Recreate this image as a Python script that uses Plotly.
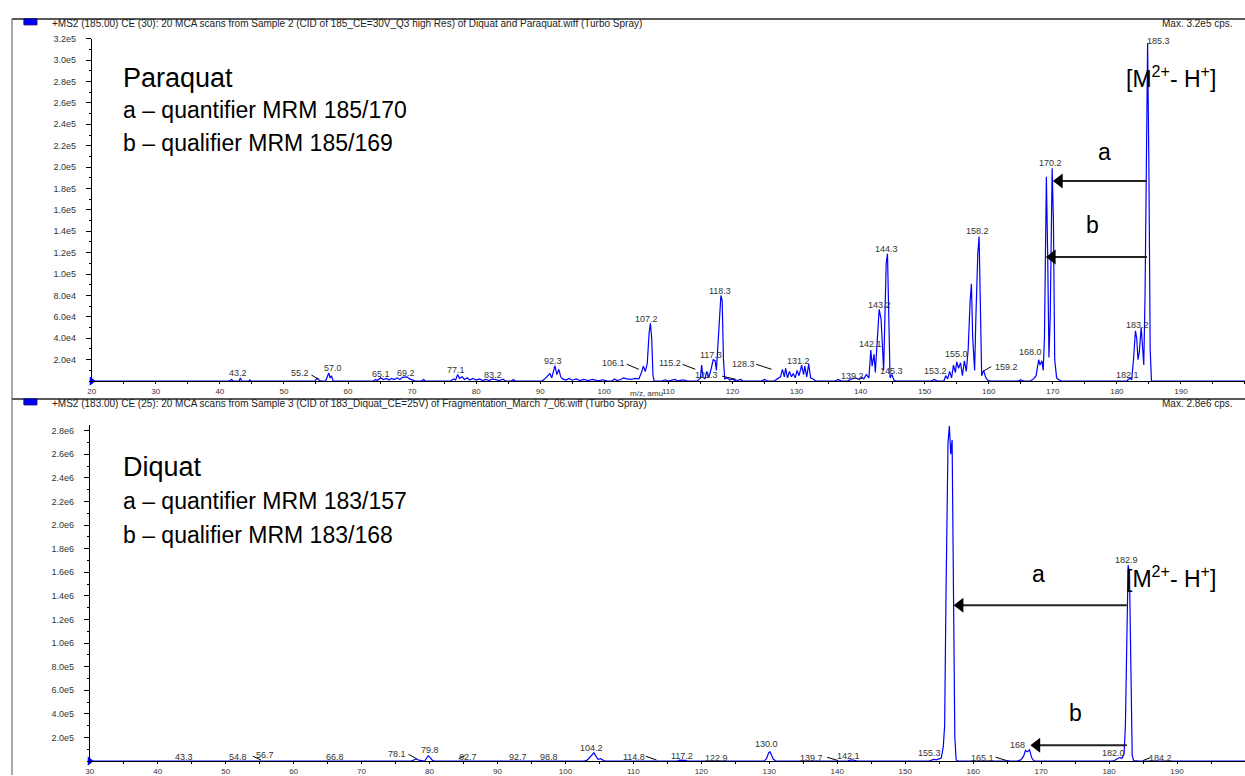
import plotly.graph_objects as go

W, H = 1245, 776

# ---------------- data: Paraquat (top panel) ----------------
pq_mz = [20, 41.5, 41.8, 42.1, 43.0, 43.2, 43.4, 44.5, 44.7, 44.9,
         54.8, 55.2, 55.5, 55.8, 56.5, 57.0, 57.2, 57.4, 57.7,
         64.0, 64.3, 64.6, 65.1, 65.5, 66.0, 66.4, 66.8, 67.2, 67.7, 68.1, 68.5, 69.2, 69.6, 70.0, 70.5, 71.5, 71.8, 72.1,
         76.0, 76.5, 76.8, 77.1, 77.4, 77.8, 78.2, 78.6, 79.0, 79.5, 80.0, 80.5, 81.0, 81.5, 82.0, 82.6, 83.2, 83.6, 84.2, 84.6, 85.5, 85.8, 86.1,
         90.3, 90.8, 91.2, 91.5, 91.8, 92.0, 92.3, 92.6, 92.9, 93.2, 93.5, 94.0, 94.5, 95.0, 95.6, 96.2, 96.8, 97.5, 98.2, 99.0, 99.8, 100.5,
         101.2, 101.6, 102.0, 102.6, 103.0, 103.5, 104.2, 104.8, 105.4, 105.8, 106.1, 106.4, 106.7, 107.0, 107.2, 107.4, 107.6, 107.8,
         109.0, 109.5, 110.0, 111.0, 111.5, 112.0, 112.5, 113.0,
         114.5, 115.0, 115.2, 115.4, 115.7, 116.0, 116.3, 116.7, 117.0, 117.3, 117.5, 117.8, 118.0, 118.2, 118.4, 118.6, 118.8, 119.2, 119.6, 120.0, 120.5, 121.3, 121.6,
         124.5, 125.0, 125.5, 126.5, 127.0, 127.5, 127.8, 128.1, 128.3, 128.6, 128.9, 129.2, 129.5, 129.8, 130.1, 130.4, 130.8, 131.1, 131.3, 131.6, 131.9, 132.2, 132.6, 133.0,
         136.0, 136.5, 137.0, 138.0, 138.6, 139.2, 139.8, 140.2, 140.5, 140.9, 141.3, 141.6, 141.8, 142.1, 142.3, 142.6, 142.9, 143.2, 143.4, 143.6, 143.8, 144.0, 144.2, 144.4, 144.6, 144.9, 145.2, 145.5,
         151.0, 151.5, 152.0, 153.0, 153.3, 153.6, 153.9, 154.2, 154.5, 154.8, 155.0, 155.3, 155.6, 155.9, 156.2, 156.5, 156.8, 157.1, 157.3, 157.5, 157.8, 158.0, 158.3, 158.5, 158.7, 158.9, 159.2, 159.5, 159.8, 160.2,
         164.5, 165.0, 165.5, 166.5, 167.0, 167.4, 167.8, 168.0, 168.3, 168.5, 168.7, 169.0, 169.2, 169.4, 169.6, 169.9, 170.1, 170.3, 170.6, 171.0, 171.4,
         181.5, 181.8, 182.1, 182.3, 182.6, 182.9, 183.1, 183.3, 183.5, 183.8, 184.0, 184.2, 184.4, 184.6, 184.8, 185.0, 185.2, 185.4,
         200]
pq_int = [0, 0, 1500, 0, 0, 3000, 0, 0, 1200, 0,
          0, 2500, 800, 0, 0, 7500, 3000, 5000, 0,
          0, 1500, 500, 3000, 1500, 2500, 1000, 2500, 1500, 3000, 1500, 3500, 4000, 2000, 1000, 0, 0, 1500, 0,
          0, 2000, 1000, 6000, 2500, 4000, 1500, 3000, 1000, 2500, 1000, 2000, 500, 1500, 500, 2000, 1500, 500, 1800, 0, 0, 1500, 0,
          0, 2500, 5000, 7000, 3000, 9000, 14500, 6000, 11000, 4000, 2000, 1000, 2500, 800, 2000, 500, 1500, 500, 1500, 300, 1200, 0,
          0, 2000, 500, 1500, 3000, 2000, 1500, 2500, 2000, 8000, 14000, 9000, 16000, 45000, 54000, 40000, 5000, 0,
          0, 1200, 0, 1500, 0, 800, 1000, 0,
          0, 3000, 15000, 4000, 2000, 9000, 3000, 12000, 20000, 19000, 10000, 40000, 65000, 80000, 75000, 20000, 2000, 3000, 1000, 2000, 0, 1500, 0,
          0, 1500, 0, 0, 2000, 4000, 11000, 4000, 12000, 3000, 9000, 4000, 7000, 3000, 10000, 5000, 15000, 6000, 14000, 4000, 16000, 3000, 2000, 0,
          0, 1500, 0, 0, 2000, 3000, 1500, 3500, 2000, 6000, 3000, 29000, 14000, 25000, 8000, 40000, 67000, 58000, 30000, 10000, 60000, 110000, 119000, 40000, 3000, 6000, 1000, 0,
          0, 1500, 0, 0, 5000, 2000, 9000, 3000, 15000, 8000, 18000, 12000, 17000, 5000, 19000, 9000, 30000, 75000, 91000, 40000, 10000, 60000, 120000, 135000, 50000, 5000, 10000, 4000, 1000, 0,
          0, 1000, 0, 0, 2000, 5000, 20000, 15000, 19000, 10000, 40000, 191000, 120000, 22000, 60000, 199000, 150000, 20000, 3000, 1000, 0,
          0, 1500, 3000, 1000, 20000, 47000, 40000, 20000, 27000, 50000, 30000, 15000, 80000, 200000, 316000, 200000, 30000, 0,
          0]

# ---------------- data: Diquat (bottom panel) ----------------
dq_mz = [30, 42.5, 43.0, 43.3, 43.6, 45.0, 45.3, 45.6,
         54.5, 54.8, 55.1, 56.4, 56.7, 57.0,
         64.5, 65.0, 65.5, 66.5, 66.8, 67.2, 67.8, 68.3, 69.0, 69.6, 70.5, 71.0, 71.5, 72.5, 73.0, 73.4,
         77.3, 77.8, 78.1, 78.4, 78.8, 79.3, 79.5, 79.8, 80.1, 80.4, 80.7,
         82.4, 82.7, 83.0, 84.0, 84.5, 85.0, 86.5, 87.0, 87.5, 90.0, 90.5, 91.0, 92.4, 92.7, 93.0, 94.5, 95.0, 95.5, 96.0, 96.5, 98.5, 98.8, 99.2, 100.5, 101.0, 101.5,
         102.8, 103.2, 103.6, 103.9, 104.2, 104.5, 104.8, 105.2, 105.6, 106.0,
         110.0, 110.5, 111.0, 114.5, 114.8, 115.2, 116.5, 116.8, 117.2, 117.6, 118.0,
         122.6, 122.9, 123.2,
         129.2, 129.6, 129.9, 130.1, 130.3, 130.6, 131.0,
         139.5, 139.8, 140.1, 141.5, 141.9, 142.2, 142.6, 143.0,
         153.5, 153.8, 154.2, 154.6, 155.0, 155.3, 155.6, 155.8, 156.0, 156.3, 156.5, 156.7, 156.9, 157.1, 157.3, 157.5, 157.8,
         164.8, 165.1, 165.4, 166.5, 167.0, 167.4, 167.7, 168.0, 168.3, 168.6, 168.9, 169.2,
         180.4, 180.8, 181.2, 181.6, 181.9, 182.2, 182.4, 182.6, 182.8, 183.0, 183.2, 183.4, 183.6, 184.0, 184.2, 184.5,
         200]
dq_int = [0, 0, 3000, 6000, 0, 0, 3000, 0,
          0, 5000, 0, 0, 6000, 0,
          0, 3000, 0, 0, 5000, 2000, 4000, 1000, 3000, 0, 0, 4000, 0, 0, 3000, 0,
          0, 12000, 18000, 8000, 3000, 0, 20000, 45000, 30000, 8000, 0,
          0, 5000, 0, 0, 3000, 0, 0, 4000, 0, 0, 3000, 0, 0, 5000, 0, 0, 4000, 3000, 6000, 0, 0, 5000, 0, 0, 3000, 0,
          0, 8000, 30000, 50000, 70000, 40000, 15000, 20000, 5000, 0,
          0, 3000, 0, 0, 4000, 0, 0, 8000, 10000, 6000, 0,
          0, 5000, 0,
          0, 20000, 70000, 80000, 50000, 15000, 0,
          0, 5000, 0, 0, 8000, 10000, 5000, 0,
          0, 8000, 15000, 10000, 20000, 25000, 120000, 300000, 1400000, 2700000, 2840000, 2600000, 2720000, 1500000, 200000, 10000, 0,
          0, 4000, 0, 0, 10000, 40000, 90000, 80000, 95000, 30000, 5000, 0,
          0, 5000, 20000, 30000, 25000, 60000, 300000, 1200000, 1660000, 1600000, 600000, 50000, 5000, 3000, 6000, 0,
          0]

# ---------------- tick labels ----------------
pq_ytick_text = ["2.0e4", "4.0e4", "6.0e4", "8.0e4", "1.0e5", "1.2e5", "1.4e5", "1.6e5",
                 "1.8e5", "2.0e5", "2.2e5", "2.4e5", "2.6e5", "2.8e5", "3.0e5", "3.2e5"]
dq_ytick_text = ["2.0e5", "4.0e5", "6.0e5", "8.0e5", "1.0e6", "1.2e6", "1.4e6",
                 "1.6e6", "1.8e6", "2.0e6", "2.2e6", "2.4e6", "2.6e6", "2.8e6"]
pq_xtick_text = ["20", "30", "40", "50", "60", "70", "80", "90", "100", "110",
                 "120", "130", "140", "150", "160", "170", "180", "190", "200"]
dq_xtick_text = ["30", "40", "50", "60", "70", "80", "90", "100", "110",
                 "120", "130", "140", "150", "160", "170", "180", "190", "200"]

# ---------------- peak labels ----------------
pq_lab_text = ["43.2", "55.2", "57.0", "65.1", "69.2", "77.1", "83.2", "92.3", "106.1", "107.2",
               "115.2", "117.3", "118.3", "121.3", "128.3", "131.2", "139.2", "142.1", "143.2",
               "144.3", "145.3", "153.2", "155.0", "158.2", "159.2", "168.0", "170.2", "182.1",
               "183.2", "185.3"]
pq_lab_x = [42.9, 52.5, 57.6, 65.1, 69.0, 76.8, 82.7, 92.0, 101.5, 106.6,
            110.2, 116.7, 118.0, 116.0, 121.7, 130.3, 138.8, 141.5, 142.9,
            144.0, 144.9, 151.7, 155.0, 158.3, 162.8, 166.5, 169.6, 181.7,
            183.3, 186.5]
pq_lab_y = [7400, 7400, 12000, 6500, 7400, 10200, 5600, 18500, 16700, 58300,
            16700, 24000, 84300, 5500, 15700, 18500, 4600, 35000, 71000,
            123000, 9300, 9300, 25000, 140000, 13000, 27000, 204000, 5600,
            52800, 318000]

dq_lab_text = ["43.3", "54.8", "56.7", "66.8", "78.1", "79.8", "82.7", "92.7", "98.8", "104.2",
               "114.8", "117.2", "122.9", "130.0", "139.7", "142.1", "155.3", "156.9", "165.1",
               "168", "182.0", "182.9", "184.2"]
dq_lab_x = [43.8, 51.8, 55.8, 66.1, 75.2, 80.1, 85.7, 93.0, 97.6, 103.9,
            110.1, 117.1, 122.2, 129.6, 136.2, 141.7, 153.6, 156.5, 161.4,
            166.5, 180.7, 182.6, 187.5]
dq_lab_y = [33700, 33700, 50500, 33700, 58900, 92600, 33700, 33700, 33700, 109000,
            33700, 42000, 25000, 143000, 25000, 42000, 67000, 2930000, 25000,
            135000, 67000, 1700000, 25000]

# arrows: (x-axis, y-axis, tail m/z, head m/z, level)
arrow_defs = [
    ("x", "y", 184.7, 170.1, 187000),
    ("x", "y", 184.7, 169.0, 116000),
    ("x2", "y2", 182.6, 157.2, 1.32e6),
    ("x2", "y2", 182.6, 168.5, 1.35e5),
]

# leader ticks joining some labels to their peaks: (axis suffix, m/z0, y0, m/z1, y1)
leaders = [
    ("", 54.3, 5600, 55.5, 1500),
    ("", 103.5, 15700, 105.4, 11000),
    ("", 112.2, 15700, 114.2, 11000),
    ("", 118.4, 4600, 120.6, 1500),
    ("", 123.7, 15700, 126.1, 11000),
    ("", 160.4, 13500, 159.2, 9500),
    ("2", 54.0, 42000, 55.2, 9000),
    ("2", 76.9, 58000, 78.1, 20000),
    ("2", 84.3, 20000, 85.2, 45000),
    ("2", 111.8, 42000, 113.4, 9000),
    ("2", 138.5, 33000, 140.1, 5000),
    ("2", 163.3, 33000, 164.9, 5000),
    ("2", 185.0, 5000, 186.1, 30000),
]


def px(x):
    return x / W


def py(y):
    return 1 - y / H


FONT = "Liberation Sans, Arial, sans-serif"
BLUE = "#0000FF"
ARROW = "#222222"

fig = go.Figure()
fig.add_trace(go.Scatter(x=pq_mz, y=pq_int, mode="lines", xaxis="x", yaxis="y",
                         line=dict(color=BLUE, width=1.2), showlegend=False, hoverinfo="skip"))
fig.add_trace(go.Scatter(x=dq_mz, y=dq_int, mode="lines", xaxis="x2", yaxis="y2",
                         line=dict(color=BLUE, width=1.2), showlegend=False, hoverinfo="skip"))
# origin markers
fig.add_trace(go.Scatter(x=[pq_mz[0]], y=[0], mode="markers", xaxis="x", yaxis="y", cliponaxis=False,
                         marker=dict(symbol="triangle-right", size=8, color=BLUE), showlegend=False, hoverinfo="skip"))
fig.add_trace(go.Scatter(x=[dq_mz[0]], y=[0], mode="markers", xaxis="x2", yaxis="y2", cliponaxis=False,
                         marker=dict(symbol="triangle-right", size=8, color=BLUE), showlegend=False, hoverinfo="skip"))

# arrows drawn as a line plus a triangular head
for xa, ya, tail, head, lvl in arrow_defs:
    per_unit = 6.43 if xa == "x" else 6.82
    head_c = head + 6.0 / per_unit
    fig.add_trace(go.Scatter(x=[tail, head_c], y=[lvl, lvl], mode="lines", xaxis=xa, yaxis=ya,
                             line=dict(color=ARROW, width=2), showlegend=False, hoverinfo="skip"))
    fig.add_trace(go.Scatter(x=[head_c], y=[lvl], mode="markers", xaxis=xa, yaxis=ya,
                             marker=dict(symbol="triangle-left", size=13, color="black"),
                             showlegend=False, hoverinfo="skip"))

tickfont = dict(family=FONT, size=9, color="#333333")
xtickfont = dict(family=FONT, size=8, color="#333333")
common_x = dict(showline=True, linecolor="black", linewidth=1, ticks="outside", ticklen=2,
                tickcolor="black", showgrid=False, zeroline=False, tickfont=xtickfont,
                minor=dict(ticks="outside", ticklen=2, dtick=5, tickcolor="black"))
common_y = dict(showline=True, linecolor="black", linewidth=1, ticks="outside", ticklen=5,
                tickcolor="black", showgrid=False, zeroline=False, tickfont=tickfont,
                ticklabelstandoff=8)

fig.update_layout(
    width=W, height=H, margin=dict(l=0, r=0, t=0, b=0),
    paper_bgcolor="white", plot_bgcolor="white",
    xaxis=dict(common_x, domain=[px(88), 1], range=[20, 200], anchor="y",
               tickvals=[float(t) for t in pq_xtick_text], ticktext=pq_xtick_text),
    yaxis=dict(common_y, domain=[py(379), py(34)], range=[0, 3.2e5], anchor="x",
               tickvals=[float(t) for t in pq_ytick_text], ticktext=pq_ytick_text,
               minor=dict(ticks="outside", ticklen=2, dtick=1e4, tickcolor="black")),
    xaxis2=dict(common_x, domain=[px(86), 1], range=[30, 200], anchor="y2",
                tickvals=[float(t) for t in dq_xtick_text], ticktext=dq_xtick_text),
    yaxis2=dict(common_y, domain=[py(762), py(423)], range=[0, 2.85e6], anchor="x2",
                tickvals=[float(t) for t in dq_ytick_text], ticktext=dq_ytick_text,
                minor=dict(ticks="outside", ticklen=2, dtick=1e5, tickcolor="black")),
)

ann = []
labfont = dict(family=FONT, size=9, color="#333333")
for t, x, y in zip(pq_lab_text, pq_lab_x, pq_lab_y):
    ann.append(dict(text=t, x=x, y=y, xref="x", yref="y", showarrow=False, font=labfont,
                    xanchor="center", yanchor="middle"))
for t, x, y in zip(dq_lab_text, dq_lab_x, dq_lab_y):
    ann.append(dict(text=t, x=x, y=y, xref="x2", yref="y2", showarrow=False, font=labfont,
                    xanchor="center", yanchor="middle"))

hdrfont = dict(family=FONT, size=10, color="#222222")
ann += [
    dict(text="+MS2 (185.00) CE (30): 20 MCA scans from Sample 2 (CID of 185_CE=30V_Q3 high Res) of Diquat and Paraquat.wiff (Turbo Spray)",
         x=px(46), y=py(19), xref="paper", yref="paper", showarrow=False, font=hdrfont, xanchor="left", yanchor="middle"),
    dict(text="Max. 3.2e5 cps.", x=px(1160), y=py(19), xref="paper", yref="paper", showarrow=False, font=hdrfont,
         xanchor="left", yanchor="middle"),
    dict(text="+MS2 (183.00) CE (25): 20 MCA scans from Sample 3 (CID of 183_Diquat_CE=25V) of Fragmentation_March 7_06.wiff (Turbo Spray)",
         x=px(46), y=py(402), xref="paper", yref="paper", showarrow=False, font=hdrfont, xanchor="left", yanchor="middle"),
    dict(text="Max. 2.8e6 cps.", x=px(1160), y=py(402), xref="paper", yref="paper", showarrow=False, font=hdrfont,
         xanchor="left", yanchor="middle"),
    dict(text="m/z, amu", x=px(645), y=py(392), xref="paper", yref="paper", showarrow=False,
         font=dict(family=FONT, size=8, color="#333333"), xanchor="center", yanchor="middle"),
]

bigfont = dict(family=FONT, size=27, color="black")
midfont = dict(family=FONT, size=23, color="black")
ann += [
    dict(text="Paraquat", x=px(117), y=py(74), xref="paper", yref="paper", showarrow=False, font=bigfont, xanchor="left", yanchor="middle"),
    dict(text="a – quantifier MRM 185/170", x=px(117), y=py(106), xref="paper", yref="paper", showarrow=False, font=midfont, xanchor="left", yanchor="middle"),
    dict(text="b – qualifier MRM 185/169", x=px(117), y=py(139), xref="paper", yref="paper", showarrow=False, font=midfont, xanchor="left", yanchor="middle"),
    dict(text="[M<sup>2+</sup>- H<sup>+</sup>]", x=px(1124), y=py(73), xref="paper", yref="paper", showarrow=False, font=midfont, xanchor="left", yanchor="middle"),
    dict(text="a", x=px(1104), y=py(148), xref="paper", yref="paper", showarrow=False, font=midfont, xanchor="center", yanchor="middle"),
    dict(text="b", x=px(1092), y=py(222), xref="paper", yref="paper", showarrow=False, font=midfont, xanchor="center", yanchor="middle"),
    dict(text="Diquat", x=px(117), y=py(466), xref="paper", yref="paper", showarrow=False, font=bigfont, xanchor="left", yanchor="middle"),
    dict(text="a – quantifier MRM 183/157", x=px(117), y=py(500), xref="paper", yref="paper", showarrow=False, font=midfont, xanchor="left", yanchor="middle"),
    dict(text="b – qualifier MRM 183/168", x=px(117), y=py(534), xref="paper", yref="paper", showarrow=False, font=midfont, xanchor="left", yanchor="middle"),
    dict(text="[M<sup>2+</sup>- H<sup>+</sup>]", x=px(1124), y=py(576), xref="paper", yref="paper", showarrow=False, font=midfont, xanchor="left", yanchor="middle"),
    dict(text="a", x=px(1038), y=py(573), xref="paper", yref="paper", showarrow=False, font=midfont, xanchor="center", yanchor="middle"),
    dict(text="b", x=px(1075), y=py(714), xref="paper", yref="paper", showarrow=False, font=midfont, xanchor="center", yanchor="middle"),
]

fig.update_layout(annotations=ann)

shapes = [
    dict(type="line", xref="paper", yref="paper", x0=px(8), x1=1, y0=py(14), y1=py(14), line=dict(color="#222222", width=1.5)),
    dict(type="line", xref="paper", yref="paper", x0=px(8), x1=1, y0=py(397), y1=py(397), line=dict(color="#222222", width=1.5)),
    dict(type="line", xref="paper", yref="paper", x0=px(8), x1=px(8), y0=py(14), y1=0, line=dict(color="#555555", width=1)),
    dict(type="rect", xref="paper", yref="paper", x0=px(20), x1=px(33), y0=py(20), y1=py(14), fillcolor=BLUE, line=dict(color="#000080", width=1)),
    dict(type="rect", xref="paper", yref="paper", x0=px(20), x1=px(33), y0=py(403), y1=py(397), fillcolor=BLUE, line=dict(color="#000080", width=1)),
]
for sfx, x0, y0, x1, y1 in leaders:
    shapes.append(dict(type="line", xref="x" + sfx, yref="y" + sfx, x0=x0, y0=y0, x1=x1, y1=y1,
                       line=dict(color="black", width=1)))
fig.update_layout(shapes=shapes)

fig.write_html("out.html")
